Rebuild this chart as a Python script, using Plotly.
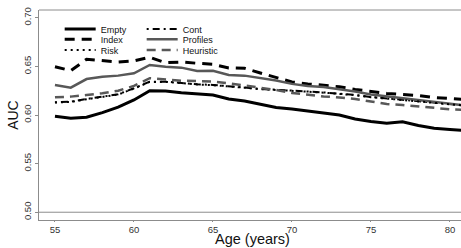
import plotly.graph_objects as go

ages = list(range(55, 82))

empty = [0.5987, 0.5966, 0.5977, 0.6024, 0.6080, 0.6155, 0.6250, 0.6247, 0.6230, 0.6216,
         0.6206, 0.6165, 0.6144, 0.6110, 0.6078, 0.6062, 0.6041, 0.6020, 0.5999, 0.5959,
         0.5933, 0.5915, 0.5931, 0.5892, 0.5863, 0.5851, 0.5841]
index = [0.6497, 0.6456, 0.6573, 0.6559, 0.6545, 0.6556, 0.6594, 0.6538, 0.6545, 0.6532,
         0.6522, 0.6484, 0.6480, 0.6432, 0.6386, 0.6340, 0.6320, 0.6304, 0.6291, 0.6263,
         0.6240, 0.6222, 0.6211, 0.6201, 0.6180, 0.6170, 0.6160]
risk = [0.6128, 0.6134, 0.6162, 0.6186, 0.6210, 0.6272, 0.6340, 0.6341, 0.6324, 0.6314,
        0.6307, 0.6297, 0.6281, 0.6266, 0.6255, 0.6250, 0.6240, 0.6230, 0.6219, 0.6204,
        0.6183, 0.6168, 0.6153, 0.6137, 0.6122, 0.6106, 0.6096]
cont = [0.6131, 0.6137, 0.6165, 0.6189, 0.6213, 0.6275, 0.6343, 0.6343, 0.6326, 0.6316,
        0.6309, 0.6299, 0.6283, 0.6268, 0.6257, 0.6252, 0.6242, 0.6232, 0.6221, 0.6206,
        0.6185, 0.6170, 0.6155, 0.6139, 0.6124, 0.6108, 0.6098]
profiles = [0.6309, 0.6281, 0.6370, 0.6394, 0.6405, 0.6429, 0.6515, 0.6497, 0.6487, 0.6453,
            0.6456, 0.6412, 0.6405, 0.6380, 0.6355, 0.6320, 0.6299, 0.6288, 0.6268, 0.6242,
            0.6211, 0.6191, 0.6170, 0.6155, 0.6134, 0.6113, 0.6098]
heuristic = [0.6182, 0.6189, 0.6206, 0.6223, 0.6250, 0.6299, 0.6378, 0.6367, 0.6353, 0.6350,
             0.6343, 0.6326, 0.6304, 0.6283, 0.6257, 0.6227, 0.6206, 0.6191, 0.6180, 0.6165,
             0.6139, 0.6113, 0.6103, 0.6088, 0.6072, 0.6059, 0.6052]

x_ticks = [55, 60, 65, 70, 75, 80]
y_ticks = [0.50, 0.55, 0.60, 0.65, 0.70]
y_tick_labels = ["0.50", "0.55", "0.60", "0.65", "0.70"]

BLACK = "#000000"
GRAY = "#585858"
AXIS = "#8c8c8c"
FONT = "Liberation Sans, Arial, sans-serif"

series = [
    ("Empty", empty, BLACK, 3, "solid", "legend"),
    ("Cont", cont, BLACK, 2, "2px,4px,7px,4px", "legend"),
    ("Index", index, BLACK, 3, "10px,7px", "legend2"),
    ("Profiles", profiles, GRAY, 2.5, "solid", "legend2"),
    ("Risk", risk, BLACK, 2, "2px,4px", "legend3"),
    ("Heuristic", heuristic, GRAY, 2.5, "9px,6px", "legend3"),
]

fig = go.Figure()
for name, vals, col, w, dash, lg in series:
    fig.add_trace(go.Scatter(x=ages, y=vals, mode="lines", name=name,
                             line=dict(color=col, width=w, dash=dash),
                             legend=lg, hoverinfo="skip"))

leg_common = dict(orientation="h", xanchor="left", yanchor="middle",
                  bgcolor="rgba(0,0,0,0)", borderwidth=0,
                  font=dict(family=FONT, size=9, color="#111"),
                  entrywidthmode="pixels", entrywidth=36, itemwidth=31)
lx = 0.049

fig.update_layout(
    width=461, height=248,
    margin=dict(l=39, r=0, t=10, b=28, autoexpand=False),
    plot_bgcolor="white", paper_bgcolor="white",
    showlegend=True,
    legend=dict(x=lx, y=0.9095, **leg_common),
    legend2=dict(x=lx, y=0.8605, **leg_common),
    legend3=dict(x=lx, y=0.8095, **leg_common),
    xaxis=dict(range=[53.99, 80.70], tickvals=x_ticks, showgrid=False, zeroline=False,
               automargin=False,
               showline=True, linecolor=AXIS, linewidth=1, ticks="outside", ticklen=1,
               tickcolor=AXIS, tickfont=dict(family=FONT, size=9.5, color="#333")),
    yaxis=dict(range=[0.492, 0.708], tickvals=y_ticks, ticktext=y_tick_labels,
               automargin=False,
               tickangle=-90, showgrid=False, zeroline=False,
               showline=True, linecolor=AXIS, linewidth=1, ticks="outside", ticklen=3,
               tickcolor=AXIS, tickfont=dict(family=FONT, size=9.5, color="#333")),
    shapes=[
        dict(type="line", xref="paper", yref="paper", x0=0, x1=1, y0=1, y1=1,
             line=dict(color=AXIS, width=1)),
        dict(type="line", xref="paper", yref="y", x0=0, x1=1, y0=0.5, y1=0.5,
             line=dict(color=AXIS, width=1)),
    ],
    annotations=[
        dict(text="AUC", xref="paper", yref="paper", x=-0.062, y=0.5, showarrow=False,
             textangle=-90, font=dict(family=FONT, size=14, color="#111"),
             xanchor="center", yanchor="middle"),
        dict(text="Age (years)", xref="paper", yref="paper", x=0.505, y=-0.092, showarrow=False,
             font=dict(family=FONT, size=14.5, color="#111"),
             xanchor="center", yanchor="middle"),
    ],
)

fig.write_html("out.html", config={"displayModeBar": False},
               post_script="document.body.style.margin='0';document.body.style.overflow='hidden';")
